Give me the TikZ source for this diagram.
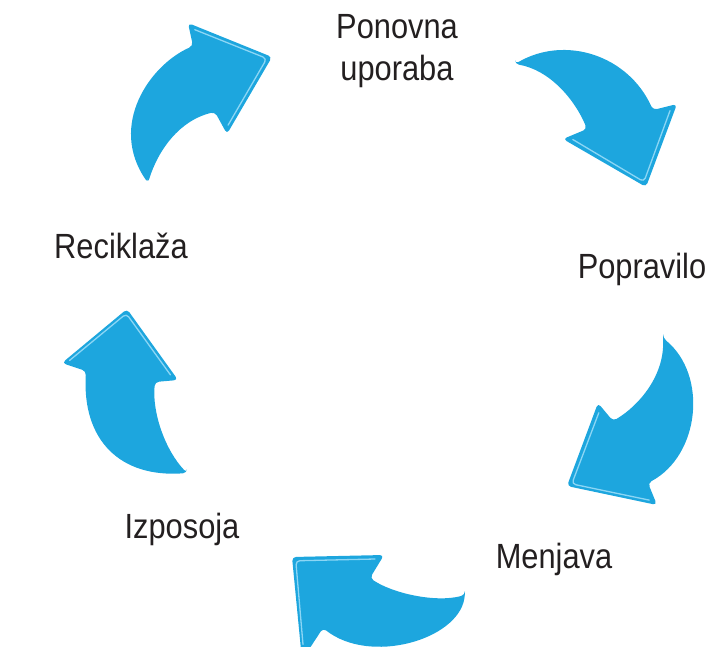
\documentclass[tikz,border=0pt]{standalone}
\usepackage{fontspec}
\setmainfont{Liberation Sans}[FakeStretch=0.88]
\definecolor{cycleblue}{HTML}{1DA6DE}
\definecolor{headlight}{HTML}{8CD6F5}
\definecolor{labelgray}{HTML}{231F20}
\tikzset{
  cyclearrow/.style={fill=cycleblue, draw=none, rounded corners=4pt},
  headedge/.style={draw=headlight, line width=1.3pt, line cap=round, line join=round, rounded corners=4pt},
  cyclelabel/.style={text=labelgray, font=\fontsize{35}{42}\selectfont, align=center, anchor=base, inner sep=0pt}
}
\begin{document}
\begin{tikzpicture}[x=1pt, y=-1pt]
  \useasboundingbox (0,0) rectangle (710,646);
  \clip (0,0) rectangle (710,646);

  % Labels
  \node[cyclelabel] (ponovna) at (397,80) {Ponovna\\uporaba};
  \node[cyclelabel] (popravilo) at (642,278) {Popravilo};
  \node[cyclelabel] (menjava) at (554,568) {Menjava};
  \node[cyclelabel] (izposoja) at (182,538) {Izposoja};
  \node[cyclelabel] (reciklaza) at (121,258) {Reciklaža};

  % Arrows
  \fill[cyclearrow] (148,183) .. controls (108,125) and (150,65) .. (193,46)
    -- (188,23) -- (272,57) -- (227,134) -- (215,112)
    .. controls (180,120) and (158,150) .. cycle;
  \draw[headedge, scale around={0.9:(220,72)}] (192,25) -- (272,57) -- (229,131);

  \fill[cyclearrow] (515,64) .. controls (565,35) and (628,55) .. (653,110)
    -- (677,104) -- (646,187) -- (563,139) -- (587,129)
    .. controls (575,100) and (550,70) .. cycle;
  \draw[headedge, scale around={0.9:(625,135)}] (567,140) -- (646,187) -- (675,108);

  \fill[cyclearrow] (663,338) .. controls (708,375) and (700,455) .. (648,483)
    -- (657,505) -- (567,486) -- (598,403) -- (613,421)
    .. controls (640,405) and (664,375) .. cycle;
  \draw[headedge, scale around={0.9:(615,465)}] (597,407) -- (567,486) -- (653,504);

  \fill[cyclearrow] (465,595) .. controls (457,640) and (370,665) .. (323,628)
    -- (302,660) -- (292,557) -- (384,555) -- (370,578)
    .. controls (392,593) and (435,603) .. cycle;
  \draw[headedge, scale around={0.9:(330,595)}] (300,650) -- (292,557) -- (380,555);

  \fill[cyclearrow] (187,473) .. controls (165,450) and (152,412) .. (155,382)
    -- (178,380) -- (127,309) -- (62,363) -- (86,371)
    .. controls (82,440) and (120,478) .. cycle;
  \draw[headedge, scale around={0.9:(120,355)}] (64,361) -- (127,309) -- (176,377);
\end{tikzpicture}
\end{document}
